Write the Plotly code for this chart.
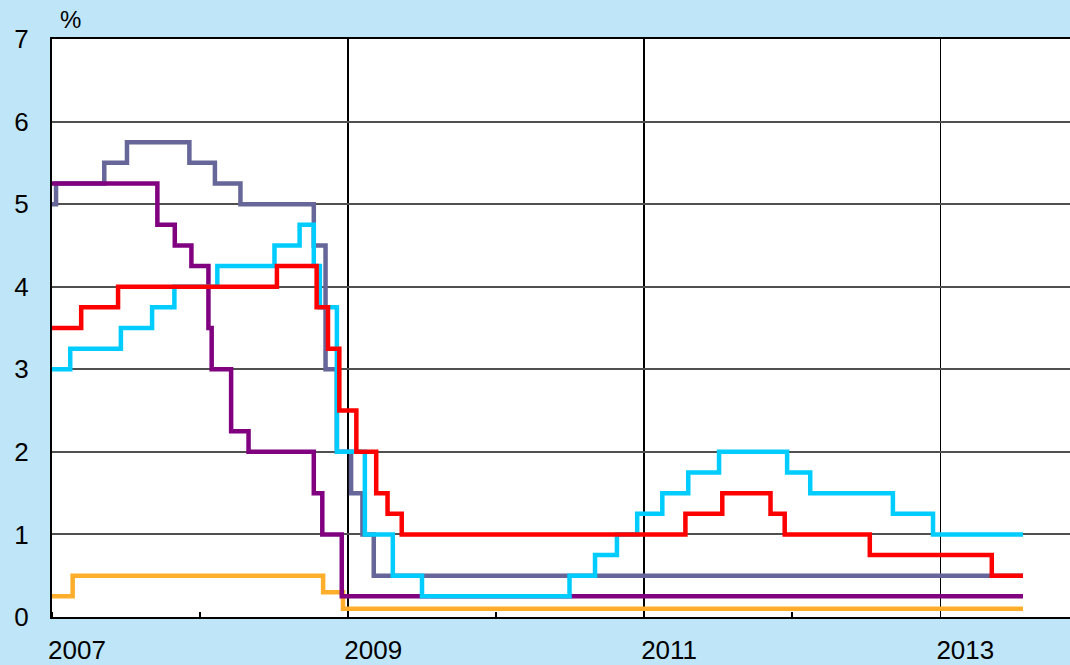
import plotly.graph_objects as go

END = "2013-07-24"

# Bank of England (slate)
boe_dates = ["2007-01-01", "2007-01-11", "2007-05-10", "2007-07-05", "2007-12-06", "2008-02-07",
             "2008-04-10", "2008-10-08", "2008-11-06", "2008-12-04", "2009-01-08", "2009-02-05",
             "2009-03-05", END]
boe_vals = [5.0, 5.25, 5.5, 5.75, 5.5, 5.25, 5.0, 4.5, 3.0, 2.0, 1.5, 1.0, 0.5, 0.5]

# US Federal Reserve (purple)
fed_dates = ["2007-01-01", "2007-09-18", "2007-10-31", "2007-12-11", "2008-01-22", "2008-01-30",
             "2008-03-18", "2008-04-30", "2008-10-08", "2008-10-29", "2008-12-16", END]
fed_vals = [5.25, 4.75, 4.5, 4.25, 3.5, 3.0, 2.25, 2.0, 1.5, 1.0, 0.25, 0.25]

# Riksbank (cyan)
rb_dates = ["2007-01-01", "2007-02-15", "2007-06-20", "2007-09-05", "2007-10-30", "2008-02-13",
            "2008-07-03", "2008-09-03", "2008-10-08", "2008-10-23", "2008-12-04", "2009-02-11",
            "2009-04-21", "2009-07-02", "2010-07-01", "2010-09-02", "2010-10-26", "2010-12-15",
            "2011-02-15", "2011-04-20", "2011-07-05", "2011-12-20", "2012-02-15", "2012-09-06",
            "2012-12-14", END]
rb_vals = [3.0, 3.25, 3.5, 3.75, 4.0, 4.25, 4.5, 4.75, 4.25, 3.75, 2.0, 1.0, 0.5, 0.25, 0.5,
           0.75, 1.0, 1.25, 1.5, 1.75, 2.0, 1.75, 1.5, 1.25, 1.0, 1.0]

# ECB (red)
ecb_dates = ["2007-01-01", "2007-03-14", "2007-06-13", "2008-07-09", "2008-10-15", "2008-11-12",
             "2008-12-10", "2009-01-21", "2009-03-11", "2009-04-08", "2009-05-13", "2011-04-13",
             "2011-07-13", "2011-11-09", "2011-12-14", "2012-07-11", "2013-05-08", END]
ecb_vals = [3.5, 3.75, 4.0, 4.25, 3.75, 3.25, 2.5, 2.0, 1.5, 1.25, 1.0, 1.25, 1.5, 1.25, 1.0,
            0.75, 0.5, 0.5]

# Bank of Japan (orange)
boj_dates = ["2007-01-01", "2007-02-21", "2008-10-31", "2008-12-19", END]
boj_vals = [0.25, 0.5, 0.3, 0.1, 0.1]

x_tick_vals = ["2007-01-01", "2009-01-01", "2011-01-01", "2013-01-01"]
x_tick_text = ["2007", "2009", "2011", "2013"]
y_tick_vals = [0, 1, 2, 3, 4, 5, 6, 7]

FONT = "Liberation Sans, Arial, sans-serif"

series = [
    (boj_dates, boj_vals, "#FFAE2B"),
    (boe_dates, boe_vals, "#666699"),
    (fed_dates, fed_vals, "#800080"),
    (rb_dates, rb_vals, "#00CCFF"),
    (ecb_dates, ecb_vals, "#FF0000"),
]

fig = go.Figure()
for d, v, c in series:
    fig.add_trace(go.Scatter(x=d, y=v, mode="lines", line=dict(color=c, width=4.5, shape="hv"),
                             showlegend=False, hoverinfo="skip", cliponaxis=False))

fig.update_layout(
    width=1070, height=665,
    margin=dict(l=52, r=0, t=39, b=48, autoexpand=False),
    paper_bgcolor="#bfe6f8",
    plot_bgcolor="white",
    font=dict(family=FONT, size=26, color="black"),
    xaxis=dict(
        type="date", automargin=False,
        range=["2007-01-01", "2013-11-17"],
        tickmode="array", tickvals=x_tick_vals, ticktext=x_tick_text,
        ticks="", ticklabelshift=25, ticklabelstandoff=9,
        showgrid=True, gridcolor="black", gridwidth=1.5,
        showline=True, linecolor="black", linewidth=2, mirror=True,
        zeroline=False,
        minor=dict(ticks="inside", ticklen=5, tickcolor="black", tickwidth=1.5,
                   dtick="M12", tick0="2007-01-01", showgrid=False),
        tickfont=dict(family=FONT, size=26, color="black"),
    ),
    yaxis=dict(
        range=[0, 7], automargin=False,
        tickmode="array", tickvals=y_tick_vals,
        ticks="", ticklabelstandoff=16,
        showgrid=True, gridcolor="#505050", gridwidth=2,
        showline=True, linecolor="black", linewidth=2,
        zeroline=False,
        tickfont=dict(family=FONT, size=26, color="black"),
    ),
    annotations=[dict(text="%", xref="paper", yref="paper", x=0.006, y=1.034,
                      xanchor="left", yanchor="middle", showarrow=False,
                      font=dict(family=FONT, size=24, color="black"))],
)

fig.write_html(
    "out.html",
    config={"displayModeBar": False, "staticPlot": True},
    post_script="document.body.style.margin='0';document.body.style.overflow='hidden';"
                "document.documentElement.style.overflow='hidden';",
)
